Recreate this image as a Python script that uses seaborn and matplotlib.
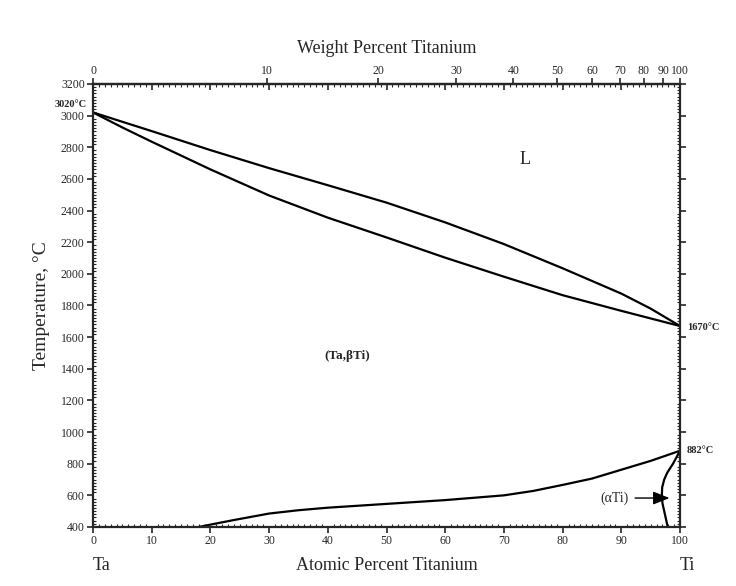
import numpy as np
import pandas as pd
import matplotlib
matplotlib.use("Agg")
import matplotlib.pyplot as plt
from matplotlib.ticker import MultipleLocator
import seaborn as sns

# DATA ----------------------
# liquidus / solidus (at.% Ti, deg C)
liq_x = [0, 10, 20, 30, 40, 50, 60, 70, 80, 90, 95, 100]
liq_t = [3020, 2902, 2782, 2668, 2560, 2450, 2325, 2188, 2035, 1875, 1780, 1670]
sol_x = [0, 5, 10, 20, 30, 40, 50, 60, 70, 80, 90, 100]
sol_t = [3020, 2925, 2835, 2660, 2495, 2355, 2230, 2102, 1982, 1865, 1766, 1670]

# (Ta,bTi) / (aTi) boundaries
beta_x = [18, 20, 24, 30, 35, 40, 50, 60, 70, 75, 80, 85, 90, 95, 100]
beta_t = [400, 415, 444, 485, 506, 522, 546, 570, 600, 628, 666, 706, 762, 818, 882]
alpha_x = [100, 98.8, 97.8, 97.3, 96.95, 96.9, 97.0, 97.3, 97.6, 97.9]
alpha_t = [882, 800, 742, 700, 650, 600, 550, 500, 450, 400]

y_ticks = list(range(400, 3201, 200))
x_ticks = list(range(0, 101, 10))
wt_ticks = list(range(0, 101, 10))

# atomic masses for the weight-percent axis
M_TA = 180.95
M_TI = 47.87


def at_to_wt(a):
    a = np.clip(np.asarray(a, dtype=float), 0, 100)
    return 100 * a * M_TI / (a * M_TI + (100 - a) * M_TA)


def wt_to_at(w):
    w = np.clip(np.asarray(w, dtype=float), 0, 100)
    return 100 * (w / M_TI) / (w / M_TI + (100 - w) / M_TA)


# PLOT ----------------------
sns.set_theme(style="ticks")
plt.rcParams["font.family"] = ["Liberation Serif", "DejaVu Serif"]

fig = plt.figure(figsize=(7.36, 5.86), dpi=100)
ax = fig.add_axes([0.1264, 0.1007, 0.7976, 0.756])

for xs, ts in [(liq_x, liq_t), (sol_x, sol_t), (beta_x, beta_t), (alpha_x, alpha_t)]:
    df = pd.DataFrame({"x": xs, "t": ts})
    sns.lineplot(data=df, x="x", y="t", sort=False, estimator=None,
                 color="black", lw=1.6, ax=ax)

ax.set_xlim(0, 100)
ax.set_ylim(400, 3200)
ax.set_xticks(x_ticks)
ax.set_yticks(y_ticks)
ax.xaxis.set_minor_locator(MultipleLocator(1))
ax.yaxis.set_minor_locator(MultipleLocator(20))
ax.tick_params(which="major", direction="out", length=4, width=1.2,
               labelsize=8.5, pad=2, right=True, top=False)
ax.tick_params(which="minor", direction="in", length=2, width=0.8,
               right=True, top=True)
for s in ax.spines.values():
    s.set_linewidth(1.6)
ax.set_xlabel("")
ax.set_ylabel("Temperature, °C", fontsize=14, labelpad=8)

# atomic ticks on the top edge point inward
top_at = ax.secondary_xaxis("top")
top_at.set_xticks(x_ticks)
top_at.tick_params(direction="in", length=4, width=1.2, labeltop=False)
top_at.spines["top"].set_visible(False)

# top axis in weight percent
sec = ax.secondary_xaxis("top", functions=(at_to_wt, wt_to_at))
sec.set_xticks(wt_ticks)
sec.tick_params(direction="out", length=4, width=1.2, labelsize=8.5, pad=1)
sec.xaxis.set_minor_locator(plt.NullLocator())
sec.spines["top"].set_linewidth(1.6)
sec.set_xlabel("Weight Percent Titanium", fontsize=13, labelpad=9)

# bottom labels
ax.text(0.5, -0.088, "Atomic Percent Titanium", transform=ax.transAxes,
        ha="center", va="center", fontsize=13)
ax.text(0.0, -0.088, "Ta", transform=ax.transAxes, ha="left", va="center", fontsize=13)
ax.text(1.0, -0.088, "Ti", transform=ax.transAxes, ha="left", va="center", fontsize=13)

# phase labels and special points
ax.text(73.6, 2720, "L", ha="center", va="center", fontsize=13)
ax.text(43.3, 1480, "(Ta,βTi)", ha="center", va="center", fontsize=9.5, fontweight="bold")
ax.text(-1.0, 3070, "3020°C", ha="right", va="center", fontsize=7.5, fontweight="bold")
ax.text(101.2, 1662, "1670°C", ha="left", va="center", fontsize=7.5, fontweight="bold")
ax.text(101.2, 885, "882°C", ha="left", va="center", fontsize=7.5, fontweight="bold")
ax.annotate("(αTi)", xy=(98.2, 583), xytext=(86.5, 583), ha="left", va="center",
            fontsize=10,
            arrowprops=dict(arrowstyle="-|>,head_length=1.0,head_width=0.4",
                            color="black", lw=1.0, shrinkA=2, shrinkB=0))

fig.savefig("out.png", dpi=100, facecolor="white")
